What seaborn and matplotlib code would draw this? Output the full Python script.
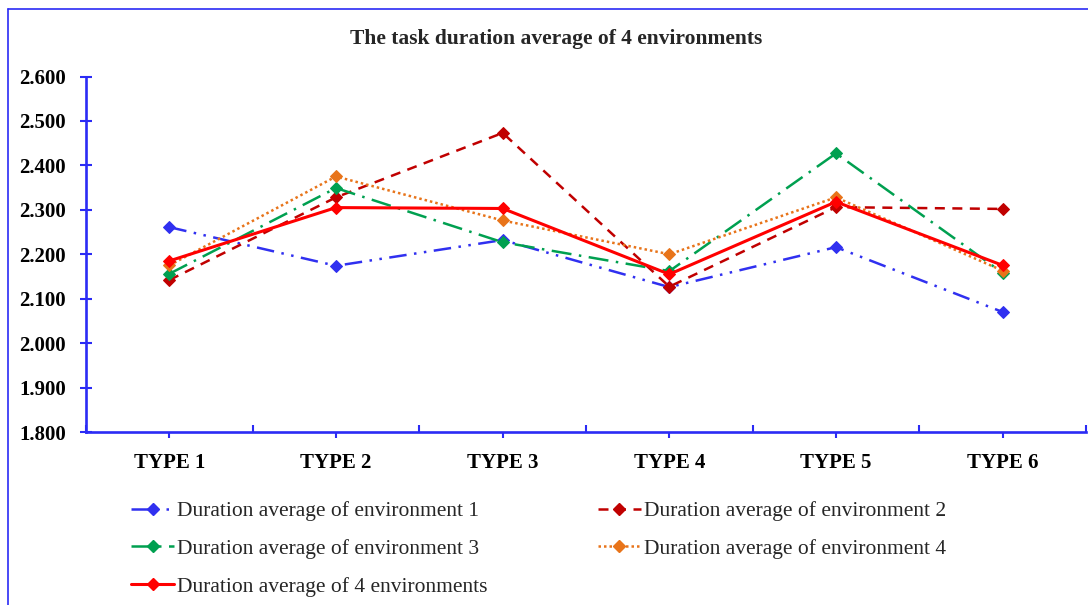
import matplotlib
matplotlib.use("Agg")
import matplotlib.pyplot as plt
from matplotlib.lines import Line2D
from matplotlib.ticker import FixedLocator, FormatStrFormatter
import seaborn as sns
import pandas as pd

# ---- data ----
categories = ["TYPE 1", "TYPE 2", "TYPE 3", "TYPE 4", "TYPE 5", "TYPE 6"]
env1 = [2.261, 2.174, 2.232, 2.126, 2.216, 2.070]
env2 = [2.142, 2.328, 2.473, 2.127, 2.306, 2.302]
env3 = [2.156, 2.349, 2.227, 2.162, 2.427, 2.158]
env4 = [2.175, 2.375, 2.276, 2.200, 2.328, 2.163]
env_avg = [2.185, 2.305, 2.303, 2.155, 2.318, 2.175]
series_names = [
    "Duration average of environment 1",
    "Duration average of environment 2",
    "Duration average of environment 3",
    "Duration average of environment 4",
    "Duration average of 4 environments",
]
yticks = [1.8, 1.9, 2.0, 2.1, 2.2, 2.3, 2.4, 2.5, 2.6]

# ---- styling ----
AXIS_BLUE = "#2B2BF5"
colors = ["#3030F0", "#C00000", "#00A050", "#E8741A", "#FF0000"]
linestyles = [
    (0, (7, 3, 1, 3, 1, 3)),   # dash-dot-dot
    (0, (4, 3)),              # dashed
    (0, (8, 3, 1, 3)),        # long dash-dot
    (0, (1, 1.2)),            # dotted
    "-",                      # solid
]
widths = [1.8, 1.8, 1.8, 1.8, 2.2]

sns.set_theme(style="white")
plt.rcParams["font.family"] = ["Liberation Serif", "DejaVu Serif"]

W, H = 1088, 605
fig = plt.figure(figsize=(W / 100, H / 100), dpi=100)
ax = fig.add_axes([86 / W, 1 - 432 / H, (1086 - 86) / W, (432 - 76.5) / H])

all_series = [env1, env2, env3, env4, env_avg]
frames = []
for name, vals in zip(series_names, all_series):
    frames.append(pd.DataFrame({"type": categories, "value": vals, "series": name}))
df = pd.concat(frames, ignore_index=True)

handles = []
for name, col, ls, lw in zip(series_names, colors, linestyles, widths):
    sub = df[df["series"] == name]
    sns.lineplot(data=sub, x="type", y="value", ax=ax, color=col,
                 linestyle=ls, linewidth=lw, marker="D", markersize=6.3,
                 markeredgecolor=col, markerfacecolor=col, sort=False,
                 legend=False)
    handles.append(Line2D([0], [0], color=col, linestyle=ls, linewidth=lw,
                          marker="D", markersize=6, markeredgecolor=col,
                          markerfacecolor=col))

ax.set_xlim(-0.5, 5.5)
ax.set_ylim(1.8, 2.6)
ax.set_xlabel("")
ax.set_ylabel("")
ax.set_yticks(yticks)
ax.yaxis.set_major_formatter(FormatStrFormatter("%.3f"))
ax.set_xticks(range(len(categories)))
ax.set_xticklabels(categories)
ax.xaxis.set_minor_locator(FixedLocator([i + 0.5 for i in range(-1, 6)]))

for side in ["top", "right"]:
    ax.spines[side].set_visible(False)
for side in ["left", "bottom"]:
    ax.spines[side].set_color(AXIS_BLUE)
    ax.spines[side].set_linewidth(1.9)

ax.tick_params(axis="y", which="major", direction="inout", length=8, width=1.5,
               color=AXIS_BLUE, pad=10.5, left=True)
ax.tick_params(axis="x", which="major", direction="out", length=4, width=1.5,
               color=AXIS_BLUE, pad=11, bottom=True)
ax.tick_params(axis="x", which="minor", direction="in", length=5, width=1.5,
               color=AXIS_BLUE, bottom=True)
for lab in ax.get_yticklabels() + ax.get_xticklabels():
    lab.set_fontweight("bold")
    lab.set_fontsize(15)
    lab.set_color("black")

fig.text(556 / W, 1 - 39 / H, "The task duration average of 4 environments",
         ha="center", va="center", fontsize=15.5, fontweight="bold")

order = [0, 2, 4, 1, 3]
fig.legend([handles[i] for i in order], [series_names[i] for i in order],
           loc="upper left", bbox_to_anchor=(131 / W, 1 - 501 / H), ncol=2,
           frameon=False, fontsize=15.5, borderpad=0, borderaxespad=0,
           handlelength=2.0, handletextpad=0.15, columnspacing=5.1,
           labelspacing=0.82)

# outer frame of the chart area
fig.add_artist(Line2D([7.5 / W, 7.5 / W], [0, 1 - 9 / H], color=AXIS_BLUE,
                      linewidth=1.2, transform=fig.transFigure))
fig.add_artist(Line2D([7.5 / W, 1], [1 - 9 / H, 1 - 9 / H], color=AXIS_BLUE,
                      linewidth=1.2, transform=fig.transFigure))

fig.savefig("out.png", dpi=100)
